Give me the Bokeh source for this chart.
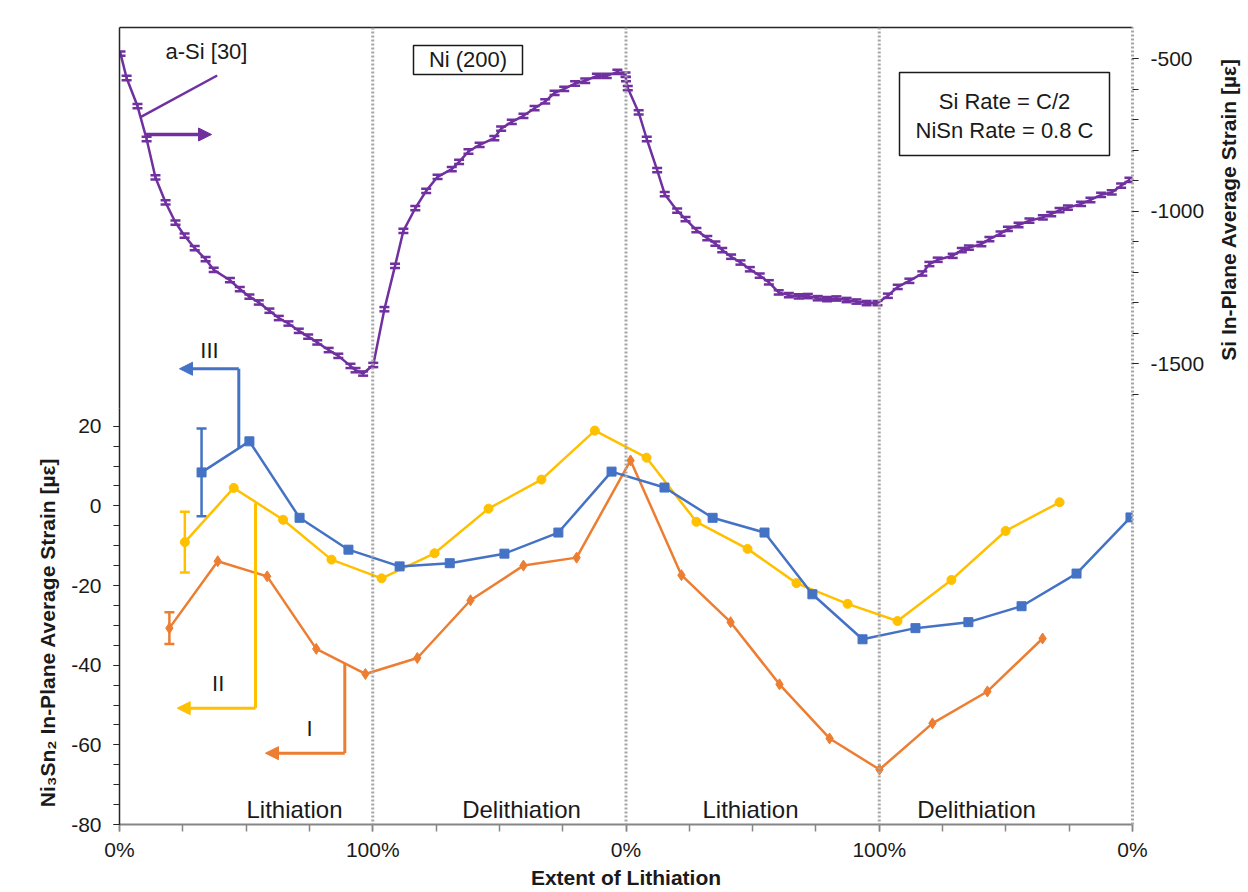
import numpy as np
from bokeh.plotting import figure
from bokeh.models import (Range1d, LinearAxis, FixedTicker, Whisker, ColumnDataSource,
                          Label, Arrow, NormalHead, TeeHead, BoxAnnotation, Span)
from bokeh.embed import file_html
from bokeh.resources import INLINE

# ---------------- data ----------------
# x = cumulative extent of lithiation (1.0 = 100 %), 4 half-cycles
si_x = [0.004, 0.028, 0.071, 0.107, 0.142, 0.182, 0.221, 0.257, 0.297, 0.340,
        0.372, 0.436, 0.475, 0.513, 0.550, 0.592, 0.629, 0.667, 0.708, 0.745,
        0.781, 0.826, 0.864, 0.912, 0.932, 0.962, 1.002, 1.046, 1.088, 1.121,
        1.168, 1.211, 1.256, 1.312, 1.341, 1.378, 1.422, 1.480, 1.507, 1.549,
        1.595, 1.639, 1.681, 1.718, 1.756, 1.799, 1.839, 1.885, 1.924, 1.966,
        1.998, 2.000, 2.007, 2.050, 2.082, 2.123, 2.153, 2.202, 2.235, 2.278,
        2.321, 2.353, 2.380, 2.415, 2.452, 2.489, 2.528, 2.564, 2.603, 2.643,
        2.682, 2.718, 2.757, 2.794, 2.831, 2.871, 2.910, 2.950, 2.993, 3.034,
        3.073, 3.119, 3.170, 3.198, 3.231, 3.290, 3.326, 3.354, 3.403, 3.435,
        3.479, 3.508, 3.550, 3.593, 3.646, 3.679, 3.712, 3.745, 3.797, 3.834,
        3.876, 3.918, 3.955, 3.988]
si_strain = [-483, -563, -655, -763, -889, -971, -1037, -1080, -1121, -1157,
             -1192, -1226, -1255, -1280, -1299, -1326, -1350, -1368, -1392, -1411,
             -1430, -1455, -1474, -1507, -1521, -1532, -1504, -1321, -1179, -1064,
             -990, -933, -887, -862, -838, -804, -782, -760, -729, -707,
             -687, -662, -640, -612, -599, -581, -572, -556, -556, -543,
             -552, -567, -596, -676, -763, -865, -944, -998, -1026, -1062,
             -1088, -1106, -1127, -1149, -1168, -1190, -1211, -1233, -1266, -1275,
             -1279, -1278, -1285, -1288, -1286, -1291, -1296, -1301, -1301, -1277,
             -1248, -1228, -1204, -1173, -1159, -1146, -1127, -1119, -1108, -1091,
             -1073, -1058, -1045, -1031, -1020, -1009, -996, -988, -976, -963,
             -946, -938, -916, -897]
si_err = 7

# Ni3Sn2 series (III = blue, II = yellow, I = orange)
blue_x = [0.324, 0.513, 0.711, 0.904, 1.106, 1.304, 1.520, 1.733, 1.943, 2.152,
          2.342, 2.547, 2.736, 2.934, 3.143, 3.352, 3.562, 3.779, 3.992]
blue_y = [8.4, 16.2, -3.0, -11.0, -15.2, -14.4, -12.0, -6.7, 8.6, 4.6,
          -3.0, -6.7, -22.2, -33.5, -30.7, -29.2, -25.2, -17.0, -2.9]
blue_err0 = 11.0

yellow_x = [0.258, 0.451, 0.646, 0.837, 1.035, 1.244, 1.457, 1.666, 1.877, 2.081,
            2.278, 2.480, 2.673, 2.875, 3.072, 3.285, 3.499, 3.712]
yellow_y = [-9.1, 4.5, -3.5, -13.5, -18.2, -11.9, -0.7, 6.6, 18.9, 12.1,
            -4.0, -10.8, -19.4, -24.6, -28.9, -18.6, -6.3, 0.9]
yellow_err0 = 7.6

orange_x = [0.197, 0.388, 0.583, 0.777, 0.971, 1.176, 1.386, 1.595, 1.805, 2.018,
            2.219, 2.413, 2.606, 2.804, 3.001, 3.210, 3.427, 3.645]
orange_y = [-30.7, -13.9, -17.7, -35.9, -42.2, -38.2, -23.7, -15.0, -13.0, 11.4,
            -17.4, -29.2, -44.8, -58.4, -66.2, -54.6, -46.6, -33.3]
orange_err0 = 4.0

x_ticks = [0, 1, 2, 3, 4]
x_tick_labels = ["0%", "100%", "0%", "100%", "0%"]
left_ticks = [-80, -60, -40, -20, 0, 20]
right_ticks = [-1500, -1000, -500]
phase_labels = ["Lithiation", "Delithiation", "Lithiation", "Delithiation"]

PURPLE = "#7030A0"
BLUE = "#4472C4"
YELLOW = "#FFC000"
ORANGE = "#ED7D31"
GRID = "#A6A6A6"
TXT = "#1a1a1a"
FONT = "Liberation Sans"

# ---- helpers converting page pixels to data coords (for annotations only) ----
def ax(px):
    return (px - 119) / 253.25

def ay(py):
    return (505.4 - py) / 3.983

def sy(py):
    return -500 - (py - 58.3) * 3.279

p = figure(width=1248, height=892, x_range=Range1d(0, 4), y_range=Range1d(-80, 120.1),
           output_backend="svg", toolbar_location=None,
           min_border_left=119, min_border_right=116, min_border_top=27, min_border_bottom=68,
           outline_line_color=None, background_fill_color="white", border_fill_color="white")
p.grid.visible = False
p.extra_y_ranges = {"si": Range1d(-3010.7, -397.4)}

# x axis
xa = p.xaxis[0]
xa.ticker = FixedTicker(ticks=x_ticks, minor_ticks=list(np.arange(0, 4.01, 0.25)))
xa.major_label_overrides = {t: l for t, l in zip(x_ticks, x_tick_labels)}
xa.axis_line_color = "#868686"
xa.axis_line_width = 2
xa.major_tick_line_color = "#868686"
xa.minor_tick_line_color = "#868686"
xa.major_tick_in = 0
xa.major_tick_out = 7
xa.minor_tick_in = 0
xa.minor_tick_out = 7
xa.major_tick_line_width = 1.5
xa.minor_tick_line_width = 1.5
xa.major_label_text_font = FONT
xa.major_label_text_font_size = "21px"
xa.major_label_text_color = TXT
xa.major_label_standoff = 6
xa.axis_label = "Extent of Lithiation"
xa.axis_label_text_font = FONT
xa.axis_label_text_font_size = "21px"
xa.axis_label_text_font_style = "bold"
xa.axis_label_text_color = TXT
xa.axis_label_standoff = 2

# left axis
ya = p.yaxis[0]
ya.ticker = FixedTicker(ticks=left_ticks, minor_ticks=list(range(-80, 21, 5)))
ya.major_label_overrides = {t: str(t) for t in left_ticks}
ya.axis_line_color = "#262626"
ya.axis_line_width = 1.5
ya.major_tick_line_color = "#262626"
ya.minor_tick_line_color = "#262626"
ya.major_tick_in = 0
ya.major_tick_out = 6
ya.minor_tick_in = 0
ya.minor_tick_out = 6
ya.major_label_text_font = FONT
ya.major_label_text_font_size = "21px"
ya.major_label_text_color = TXT
ya.major_label_standoff = 12

# right axis (Si)
ra = LinearAxis(y_range_name="si",
                ticker=FixedTicker(ticks=right_ticks, minor_ticks=list(range(-1600, -499, 100))))
ra.major_label_overrides = {t: str(t) for t in right_ticks}
ra.axis_line_color = GRID
ra.axis_line_width = 3
ra.axis_line_dash = "2 2"
ra.major_tick_line_color = "#262626"
ra.minor_tick_line_color = "#262626"
ra.major_tick_in = 0
ra.major_tick_out = 6
ra.minor_tick_in = 0
ra.minor_tick_out = 6
ra.major_label_text_font = FONT
ra.major_label_text_font_size = "21px"
ra.major_label_text_color = TXT
ra.major_label_standoff = 12
p.add_layout(ra, "right")

# top border
ta = LinearAxis(ticker=FixedTicker(ticks=[]), axis_line_color="#262626", axis_line_width=1.5,
                major_label_text_font_size="0px", major_tick_line_color=None, minor_tick_line_color=None)
p.add_layout(ta, "above")

# phase separators
for loc in [1, 2, 3]:
    p.add_layout(Span(location=loc, dimension="height", line_color=GRID, line_width=3, line_dash="2 2"))

# ---------------- Si series ----------------
si_src = ColumnDataSource(dict(x=si_x, y=si_strain,
                               lo=[v - si_err for v in si_strain], hi=[v + si_err for v in si_strain]))
p.line("x", "y", source=si_src, y_range_name="si", line_color=PURPLE, line_width=2.5)
p.add_layout(Whisker(base="x", lower="lo", upper="hi", source=si_src, y_range_name="si",
                     line_color=PURPLE, line_width=2,
                     upper_head=TeeHead(size=10, line_color=PURPLE, line_width=2.5),
                     lower_head=TeeHead(size=10, line_color=PURPLE, line_width=2.5)))

# ---------------- Ni3Sn2 series ----------------
for xs, ys, err, col, mk, sz in [(orange_x, orange_y, orange_err0, ORANGE, "diamond", 11),
                                 (yellow_x, yellow_y, yellow_err0, YELLOW, "circle", 9),
                                 (blue_x, blue_y, blue_err0, BLUE, "square", 9)]:
    p.line(xs, ys, line_color=col, line_width=2.5)
    p.scatter(xs, ys, marker=mk, size=sz, fill_color=col, line_color=col)
    es = ColumnDataSource(dict(x=[xs[0]], lo=[ys[0] - err], hi=[ys[0] + err]))
    p.add_layout(Whisker(base="x", lower="lo", upper="hi", source=es, line_color=col, line_width=2.5,
                         upper_head=TeeHead(size=10, line_color=col, line_width=2.5),
                         lower_head=TeeHead(size=10, line_color=col, line_width=2.5)))

# ---------------- annotations ----------------
def label(px, py, text, size="22px", bold=False, angle=0.0, color=TXT, place="center"):
    p.add_layout(Label(x=ax(px), y=ay(py), text=text, text_align="center", text_baseline="middle",
                       text_font=FONT, text_font_size=size, text_color=color, angle=angle,
                       text_font_style="bold" if bold else "normal"), place)

def box(l, r, t, b, line_color="#1a1a1a", width=1.5):
    p.add_layout(BoxAnnotation(left=ax(l), right=ax(r), top=ay(t), bottom=ay(b),
                               fill_color="white", fill_alpha=1, line_color=line_color,
                               line_alpha=1, line_width=width))

def seg(x0, y0, x1, y1, place, color="#C8C8C8", width=1):
    p.add_layout(Arrow(x_start=ax(x0), y_start=ay(y0), x_end=ax(x1), y_end=ay(y1), end=None,
                       line_color=color, line_width=width), place)

# a-Si reference
label(206, 51, "a-Si [30]")
p.add_layout(Arrow(x_start=ax(140), y_start=sy(116.7), x_end=ax(216.7), y_end=sy(75), end=None,
                   y_range_name="si", line_color=PURPLE, line_width=2.5))
p.add_layout(Arrow(x_start=ax(145), y_start=sy(134), x_end=ax(211), y_end=sy(134), y_range_name="si",
                   line_color=PURPLE, line_width=3.5,
                   end=NormalHead(size=13, fill_color=PURPLE, line_color=PURPLE)))

# Ni (200) box
box(413, 522, 45, 74)
label(467.5, 59.5, "Ni (200)")

# rate box
box(899, 1109, 72, 155)
label(1004, 101, "Si Rate = C/2")
label(1004, 130, "NiSn Rate = 0.8 C")

# series pointers
def pointer(x_v, y_top, y_bot, x_tip, col, text, tx, ty):
    p.add_layout(Arrow(x_start=ax(x_v), y_start=ay(y_top), x_end=ax(x_v), y_end=ay(y_bot), end=None,
                       line_color=col, line_width=3))
    p.add_layout(Arrow(x_start=ax(x_v), y_start=ay(y_bot), x_end=ax(x_tip), y_end=ay(y_bot),
                       line_color=col, line_width=3,
                       end=NormalHead(size=13, fill_color=col, line_color=col)))
    label(tx, ty, text)

pointer(238.3, 448.3, 368.3, 179, BLUE, "III", 209, 350)
pointer(255, 502.7, 707.7, 176.7, YELLOW, "II", 217.7, 683.3)
pointer(344.3, 663.3, 752.7, 265, ORANGE, "I", 309, 728.3)

# phase labels
for cx, t in zip([294, 521, 750, 976], phase_labels):
    label(cx, 809, t, size="24px")

# vertical axis titles (placed in the side panels)
label(47, 632, "Ni\u2083Sn\u2082 In-Plane Average Strain [\u00b5\u03b5]", size="21px", bold=True,
      angle=np.pi / 2, place="left")
label(1228, 209, "Si In-Plane Average Strain [\u00b5\u03b5]", size="21px", bold=True,
      angle=np.pi / 2, place="right")

# faint frame edges of overlay boxes present in the original figure
seg(1133, 401, 1213, 401, "right")
seg(1213, 401, 1213, 832, "right")
seg(1133, 832, 1213, 832, "right")
seg(10, 408, 119, 408, "left")
for (l, t, r, b) in [(569, 838, 621, 858), (835, 831, 922, 867), (1073, 836, 1126, 866)]:
    seg(l, t, r, t, "below")
    seg(r, t, r, b, "below")
    seg(l, b, r, b, "below")
    seg(l, t, l, b, "below")

open("out.html", "w").write(file_html(p, INLINE))
